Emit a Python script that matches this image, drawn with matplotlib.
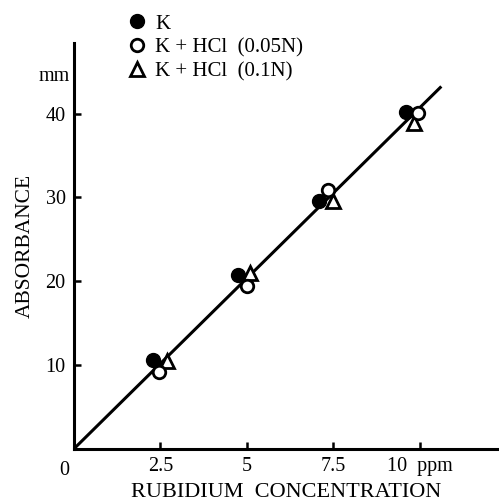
import matplotlib.pyplot as plt

# rubidium calibration: peak height (mm) vs concentration (ppm)
k_x = [2.3, 4.75, 7.1, 9.6]
k_y = [10.6, 20.7, 29.6, 40.2]
hcl05_x = [2.45, 5.0, 7.35, 9.95]
hcl05_y = [9.2, 19.4, 30.9, 40.1]
hcl10_x = [2.7, 5.1, 7.5, 9.85]
hcl10_y = [10.5, 21.0, 29.6, 38.9]
fit_x = [0, 10.6]
fit_y = [0, 43.1]

x_ticks = [2.5, 5, 7.5, 10]
x_labels = ["2.5", "5", "7.5", "10  ppm"]
y_ticks = [10, 20, 30, 40]
legend_labels = ["K", "K + HCl  (0.05N)", "K + HCl  (0.1N)"]

plt.rcParams['font.family'] = ['Liberation Serif', 'DejaVu Serif']

fig = plt.figure(figsize=(4.99, 5.01), dpi=100)
ax = fig.add_axes([0.148, 0.104, 0.852, 0.81])

ax.plot(fit_x, fit_y, color='black', lw=2.2, zorder=1)
h1, = ax.plot(k_x, k_y, 'o', ms=10, color='black', mec='black', zorder=3)
h2, = ax.plot(hcl05_x, hcl05_y, 'o', ms=9, mfc='white', mec='black', mew=2.0, zorder=4)
h3, = ax.plot(hcl10_x, hcl10_y, '^', ms=10, mfc='white', mec='black', mew=2.0, zorder=2)

ax.set_xlim(0, 12.3)
ax.set_ylim(0, 48.4)
for side in ('top', 'right'):
    ax.spines[side].set_visible(False)
for side in ('left', 'bottom'):
    ax.spines[side].set_linewidth(2.2)

ax.set_xticks(x_ticks)
ax.set_xticklabels(x_labels)
ax.set_yticks(y_ticks)
ax.tick_params(direction='in', length=5, width=1.8, labelsize=14.5, pad=6)

ax.text(-0.012, -0.03, "0", transform=ax.transAxes, ha='right', va='top', fontsize=14.5)
ax.text(-0.01, 40 / 48.4 + 0.09, "mm", transform=ax.transAxes, ha='right', va='center', fontsize=14.5)

ax.set_xlabel("RUBIDIUM  CONCENTRATION", fontsize=16, labelpad=5)
ax.set_ylabel("ABSORBANCE", fontsize=15.5, labelpad=8)

fig.legend([h1, h2, h3], legend_labels, loc='upper left', bbox_to_anchor=(0.24, 0.993),
           frameon=False, fontsize=15, handlelength=0.7, handletextpad=0.5,
           labelspacing=0.2, borderpad=0)

fig.savefig("out.png", dpi=100)
